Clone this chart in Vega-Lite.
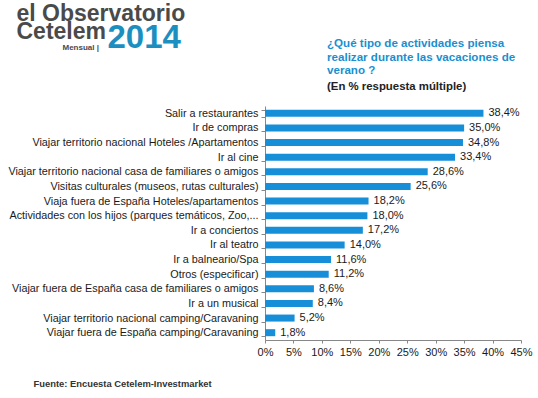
{
  "$schema": "https://vega.github.io/schema/vega-lite/v6.json",
  "autosize": {"type": "none"},
  "width": 256,
  "height": 234,
  "padding": {"left": 265, "top": 106, "right": 17, "bottom": 58},
  "background": "white",
  "config": {
    "locale": {"number": {"decimal": ",", "thousands": ".", "grouping": [3], "currency": ["", " €"]}},
    "view": {"stroke": null},
    "font": "Liberation Sans"
  },
  "title": {
    "text": ["¿Qué tipo de actividades piensa", "realizar durante las vacaciones de", "verano ?"],
    "subtitle": "(En % respuesta múltiple)",
    "anchor": "start",
    "frame": "group",
    "dx": 62,
    "offset": -90,
    "font": "Liberation Sans",
    "fontSize": 11.6,
    "fontWeight": "bold",
    "color": "#1a8fcf",
    "lineHeight": 13.5,
    "subtitleFont": "Liberation Sans",
    "subtitleFontSize": 11.4,
    "subtitleFontWeight": "bold",
    "subtitleColor": "#222222",
    "subtitlePadding": 4
  },
  "data": {
    "values": [
      {"actividad": "Salir a restaurantes", "pct": 0.384},
      {"actividad": "Ir de compras", "pct": 0.350},
      {"actividad": "Viajar territorio nacional Hoteles /Apartamentos", "pct": 0.348},
      {"actividad": "Ir al cine", "pct": 0.334},
      {"actividad": "Viajar territorio nacional casa de familiares o amigos", "pct": 0.286},
      {"actividad": "Visitas culturales (museos, rutas culturales)", "pct": 0.256},
      {"actividad": "Viaja fuera de España Hoteles/apartamentos", "pct": 0.182},
      {"actividad": "Actividades con los hijos (parques temáticos, Zoo,...", "pct": 0.180},
      {"actividad": "Ir a conciertos", "pct": 0.172},
      {"actividad": "Ir al teatro", "pct": 0.140},
      {"actividad": "Ir a balneario/Spa", "pct": 0.116},
      {"actividad": "Otros (especificar)", "pct": 0.112},
      {"actividad": "Viajar fuera de España casa de familiares o amigos", "pct": 0.086},
      {"actividad": "Ir a un musical", "pct": 0.084},
      {"actividad": "Viajar territorio nacional camping/Caravaning", "pct": 0.052},
      {"actividad": "Viajar fuera de España camping/Caravaning", "pct": 0.018}
    ]
  },
  "resolve": {"axis": {"x": "independent", "y": "independent"}},
  "layer": [
    {
      "mark": {"type": "bar", "color": "#168fd8"},
      "encoding": {
        "y": {
          "field": "actividad", "type": "nominal", "sort": null,
          "scale": {"paddingInner": 0.52, "paddingOuter": 0.26},
          "axis": {
            "orient": "left",
            "tickBand": "extent",
            "tickSize": 4,
            "tickColor": "#888888",
            "domainColor": "#888888",
            "labelFontSize": 10.8,
            "labelColor": "#1a1a1a",
            "labelPadding": 3,
            "labelLimit": 300,
            "title": ["el Observatorio", "Cetelem"],
            "titleAngle": 0,
            "titleAlign": "left",
            "titleBaseline": "top",
            "titleX": -249,
            "titleY": -104,
            "titleFont": "Liberation Sans",
            "titleFontSize": 23,
            "titleFontWeight": "bold",
            "titleColor": "#4a4a4a",
            "titleLineHeight": 18
          }
        },
        "x": {
          "field": "pct", "type": "quantitative",
          "scale": {"domain": [0, 0.45]},
          "axis": {
            "orient": "bottom",
            "values": [0, 0.05, 0.1, 0.15, 0.2, 0.25, 0.3, 0.35, 0.4, 0.45],
            "format": ".0%",
            "grid": false,
            "tickSize": 3,
            "tickColor": "#888888",
            "domainColor": "#888888",
            "labelFontSize": 11,
            "labelColor": "#1a1a1a",
            "labelPadding": 3,
            "labelFlush": false,
            "title": "Fuente: Encuesta Cetelem-Investmarket",
            "titleAnchor": "start",
            "titleAlign": "left",
            "titleBaseline": "middle",
            "titleX": -232,
            "titleY": 43,
            "titleFont": "Liberation Sans",
            "titleFontSize": 9.4,
            "titleFontWeight": "bold",
            "titleColor": "#333333"
          }
        }
      }
    },
    {
      "mark": {"type": "text", "align": "left", "baseline": "middle", "dx": 5, "fontSize": 11, "color": "#1a1a1a"},
      "encoding": {
        "y": {
          "field": "actividad", "type": "nominal", "sort": null,
          "axis": {
            "orient": "right",
            "labels": false, "ticks": false, "domain": false,
            "title": "Mensual |",
            "titleAngle": 0,
            "titleAlign": "left",
            "titleBaseline": "middle",
            "titleX": -459,
            "titleY": -59,
            "titleFont": "Liberation Sans",
            "titleFontSize": 8,
            "titleFontWeight": "bold",
            "titleColor": "#4a4a4a"
          }
        },
        "x": {
          "field": "pct", "type": "quantitative",
          "axis": {
            "orient": "top",
            "labels": false, "ticks": false, "domain": false, "grid": false,
            "title": "2014",
            "titleAnchor": "start",
            "titleAlign": "left",
            "titleBaseline": "top",
            "titleX": -158,
            "titleY": -85,
            "titleFont": "Liberation Sans",
            "titleFontSize": 33,
            "titleFontWeight": "bold",
            "titleColor": "#1a8fc0"
          }
        },
        "text": {"field": "pct", "type": "quantitative", "format": ".1%"}
      }
    }
  ]
}
